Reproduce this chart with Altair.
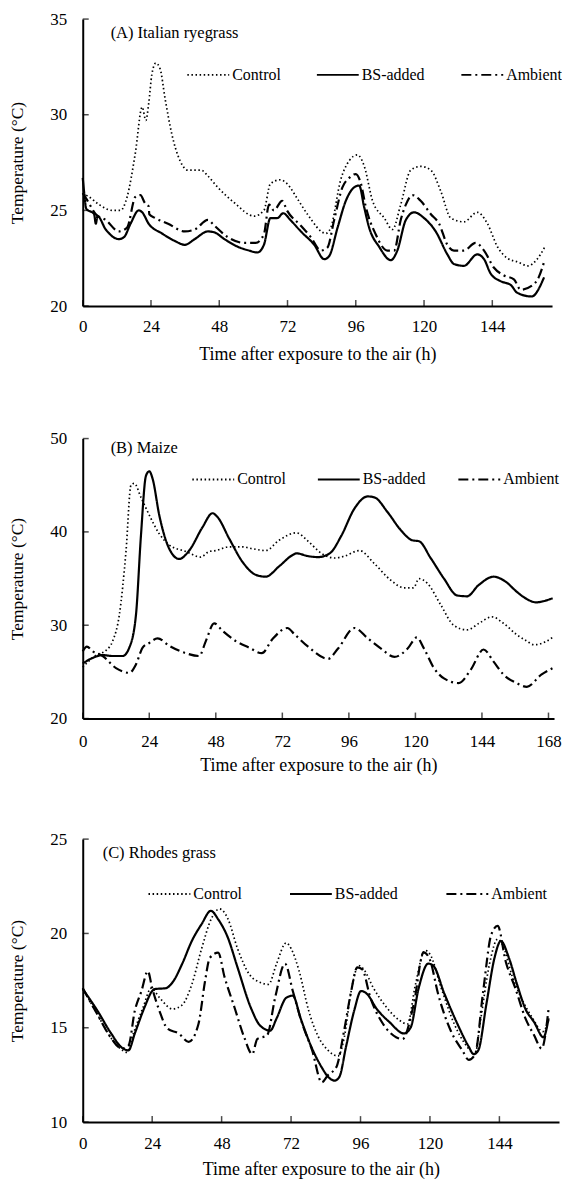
import altair as alt
import pandas as pd

SERIES = ["Control", "BS-added", "Ambient"]
DASHES = [[1.5, 2.6], [1, 0], [10, 4, 2, 4]]
FONT = "Liberation Serif"
X_TITLE = "Time after exposure to the air (h)"
Y_TITLE = "Temperature (°C)"
PANEL_LABELS = ["(A) Italian ryegrass", "(B) Maize", "(C) Rhodes grass"]

# ---------------- Panel A: Italian ryegrass ----------------
a_ctrl_t = [0, 2.3, 5.8, 10.4, 13.3, 15.6, 18.5, 20.9, 22.2, 23.2, 24.3, 25.7, 27.2, 29, 31.3, 34.2, 37, 41.7, 44, 47.5,
            53.3, 60.3, 63.7, 66, 69.5, 71.8, 75.5, 79, 85.5, 87.2, 90.7, 93.7, 96.6, 99, 101.9, 106, 108.9, 111.8,
            115.3, 118.8, 122.4, 125.9, 129.4, 134, 138.7, 142.3, 145.8, 149.3, 153, 156.5, 159.5, 162.5]
a_ctrl_v = [25.9, 25.7, 25.3, 25.0, 25.0, 25.7, 28.0, 30.4, 29.7, 30.6, 32.1, 32.7, 32.4, 30.8, 29.0, 27.6, 27.1, 27.1,
            26.8, 26.2, 25.4, 24.7, 25.0, 26.4, 26.6, 26.4, 25.6, 24.8, 23.8, 24.1, 26.6, 27.6, 27.9, 27.3, 25.5, 24.6,
            24.0, 25.3, 27.1, 27.3, 27.1, 26.0, 24.6, 24.4, 24.9, 24.3, 23.1, 22.5, 22.3, 22.1, 22.4, 23.1]
a_bs_t = [0, 0.6, 1.2, 4, 4.6, 5.2, 8.1, 12.7, 14.5, 16.8, 19.7, 20.9, 23.2, 27.8, 32.4, 35.9, 39.4, 44, 46.3, 49.8,
          54.5, 58.5, 61.4, 63.7, 66, 68.4, 70.5, 73, 76.7, 81.4, 84.9, 86.6, 89.6, 92.5, 95.4, 97.2, 98.9, 100.7,
          104.2, 108.3, 110.6, 113.6, 116.5, 120, 124.1, 128.2, 130.5, 134, 138.7, 141.1, 143.4, 146.9, 150.5, 152.7,
          157.8, 162.2]
a_bs_v = [26.7, 25.8, 25.1, 24.8, 24.3, 24.7, 24.0, 23.5, 23.6, 24.3, 25.0, 24.9, 24.3, 23.8, 23.4, 23.2, 23.5, 23.9,
          23.85, 23.5, 23.1, 22.9, 22.8, 23.2, 24.6, 24.6, 24.85, 24.5, 23.9, 23.2, 22.45, 22.6, 24.1, 25.5, 26.2, 26.3,
          25.2, 24.1, 23.1, 22.4, 22.9, 24.5, 24.9, 24.6, 23.9, 22.7, 22.2, 22.1, 22.7, 22.45, 21.7, 21.3, 21.1, 20.7,
          20.5, 21.5]
a_amb_t = [0, 1.3, 4.6, 8.1, 12.7, 15.6, 18.5, 20.3, 21.8, 23.2, 23.4, 25.5, 30, 35.9, 39.4, 44, 46.3, 51, 56.8, 60.8,
           63.7, 65.5, 67.2, 70.1, 71.8, 76.7, 80.2, 83.7, 86, 88.4, 91.3, 93.7, 96, 97.8, 99.5, 103, 107.1, 109.5,
           111.8, 113.6, 115.9, 118.8, 122.4, 125.3, 128.2, 130.5, 134, 138.1, 141.1, 144.6, 148.1, 151.6, 154, 157.8,
           160.3, 162.2]
a_amb_v = [25.9, 25.6, 24.8, 24.5, 23.9, 24.1, 25.7, 25.8, 25.4, 25.2, 24.8, 24.6, 24.3, 23.9, 24.0, 24.5, 24.2, 23.6,
           23.3, 23.3, 23.75, 25.3, 25.0, 25.5, 25.0, 24.2, 23.6, 22.9, 23.05, 24.5, 26.2, 26.7, 26.9, 26.4, 25.2,
           23.75, 22.9, 22.9, 24.5, 25.3, 25.8, 25.5, 24.8, 24.3, 23.2, 22.9, 22.9, 23.3, 22.9, 22.0, 21.6, 21.4,
           20.85, 21.05, 21.5, 22.3]

# ---------------- Panel B: Maize ----------------
b_ctrl_t = [0, 4.8, 8.4, 10.8, 13.2, 15.6, 17.4, 18.6, 21, 24, 27.6, 31.2, 37.2, 42.6, 45.6, 48, 52.8, 57.6, 61.2, 66,
            70.8, 77.1, 81.3, 86.1, 90.9, 94.4, 99.8, 105.2, 111.2, 116, 119.3, 121.3, 124.3, 129.1, 133.8, 138.6,
            143.4, 147.6, 151.8, 156.5, 160.2, 162.8, 166.7, 169.5]
b_ctrl_v = [25.5, 26.8, 27.3, 28.3, 31.1, 37.9, 45.0, 45.2, 43.7, 41.8, 39.8, 38.6, 37.9, 37.3, 37.9, 38.0, 38.4, 38.4,
            38.2, 38.0, 39.1, 39.9, 39.0, 37.7, 37.2, 37.4, 38.0, 36.6, 34.8, 34.0, 34.0, 35.0, 34.5, 32.2, 30.0, 29.5,
            30.3, 30.9, 30.2, 29.0, 28.3, 27.9, 28.2, 28.7]
b_bs_t = [0, 3.6, 7.2, 10.8, 14.4, 16.8, 19.2, 21, 22.8, 24, 25.2, 27.6, 31.2, 34.8, 38.4, 43.2, 46.8, 48.6, 52.8, 57.6,
          62.4, 66, 70.8, 75.6, 77.1, 81.3, 84.9, 89.1, 93.3, 98, 102.8, 105.2, 110, 114.7, 118.9, 121.3, 125.5, 130.3,
          135, 138.6, 142.8, 148.2, 152.4, 156.5, 160.2, 163.5, 166.5, 169.5]
b_bs_v = [25.9, 26.5, 26.8, 26.7, 26.7, 27.6, 31.1, 39.6, 46.0, 46.5, 45.7, 41.8, 38.2, 37.1, 38.0, 40.5, 42.0, 41.6,
          39.3, 36.8, 35.4, 35.2, 36.3, 37.5, 37.7, 37.4, 37.3, 37.7, 39.6, 42.5, 43.8, 43.7, 42.1, 40.2, 39.1, 39.0,
          37.2, 35.0, 33.2, 33.1, 34.3, 35.2, 34.7, 33.6, 32.8, 32.45, 32.6, 32.9]
b_amb_t = [0, 1.5, 3.6, 7.2, 12, 16.8, 19.2, 21.6, 24, 27, 31.2, 37.2, 42, 44.4, 47.4, 50.4, 55.2, 60, 64.6, 68.4,
           73.8, 76.5, 81.3, 88.5, 92.1, 98, 102.8, 107.6, 112.4, 117.2, 120.5, 123.1, 126.7, 130.3, 135.6, 139.9,
           144.6, 148.2, 151.8, 156.5, 160.2, 165.4, 169.5]
b_amb_v = [27.2, 27.7, 27.2, 26.7, 25.4, 24.9, 25.8, 27.6, 28.1, 28.6, 27.8, 27.0, 26.7, 28.3, 30.2, 29.4, 28.3, 27.6,
           27.0, 28.5, 29.7, 29.0, 27.7, 26.4, 27.5, 29.7, 28.6, 27.5, 26.6, 27.5, 28.7, 27.5, 25.4, 24.3, 23.8, 25.2,
           27.4, 26.1, 24.7, 23.8, 23.4, 24.7, 25.4]

# ---------------- Panel C: Rhodes grass ----------------
c_ctrl_t = [0, 5.1, 9.6, 13, 15.2, 17.5, 20.9, 23.7, 26.5, 31, 34.3, 37.7, 41.1, 44.5, 47.3, 50.1, 53.5, 57.5, 61.4,
            64.2, 67, 70.3, 72, 74.8, 78.1, 81.5, 84.8, 88.2, 90.4, 92.6, 95.4, 97.1, 100.5, 104.9, 109.4, 112.2, 115,
            118.3, 120, 123.9, 128.4, 132.8, 135.6, 137.3, 140.6, 143.4, 145.1, 148.5, 151.5, 155.5, 159, 161]
c_ctrl_v = [17.1, 15.7, 14.5, 13.9, 13.7, 14.7, 16.1, 17.1, 16.6, 16.0, 16.2, 17.3, 19.2, 20.8, 21.3, 20.8, 19.2, 17.85,
            17.4, 17.3, 18.4, 19.5, 19.2, 18.0, 15.9, 14.5, 13.8, 13.5, 14.5, 16.8, 18.3, 18.1, 17.1, 16.1, 15.4, 15.2,
            17.3, 19.1, 18.9, 17.1, 15.2, 14.0, 13.6, 15.2, 18.4, 19.7, 19.4, 17.7, 16.6, 15.5, 14.8, 15.4]
c_bs_t = [0, 5.1, 9.6, 13.5, 15.8, 18, 21.4, 24, 24.8, 28.7, 31, 34.4, 37.7, 41.1, 44.3, 46.8, 50.1, 53.5, 58, 61.4,
          64.8, 67, 70.4, 72.6, 75.3, 78.7, 82.6, 84.8, 87.1, 88.7, 91, 93.8, 96.2, 98.2, 101.6, 106, 111, 113.3, 116.1,
          119.4, 121.1, 125, 129.5, 133.4, 135.1, 136.7, 139.5, 142.3, 144.5, 147.3, 150.1, 153, 156, 159.2, 161]
c_bs_v = [17.05, 15.9, 14.75, 13.95, 13.8, 14.7, 16.1, 16.95, 17.05, 17.1, 17.4, 18.4, 19.6, 20.5, 21.2, 20.75, 19.8,
          18.2, 16.1, 15.1, 14.85, 15.5, 16.6, 16.7, 15.5, 14.1, 12.9, 12.4, 12.2, 12.4, 14.0, 15.9, 16.95, 16.8, 16.0,
          15.3, 14.7, 15.0, 17.1, 18.4, 18.3, 16.8, 15.2, 14.0, 13.6, 13.8, 16.25, 18.7, 19.6, 18.7, 17.3, 16.0, 15.3,
          14.5, 15.5]
c_amb_t = [0, 5.1, 9.6, 13.5, 15.8, 18, 20.3, 22.5, 24, 26.5, 29.3, 33.2, 36.6, 40, 42.3, 43.9, 46.8, 49, 52.4, 55.8,
           58.6, 60.3, 63.7, 66.5, 69.9, 72.6, 75.9, 79.3, 82.6, 84.8, 87.6, 90.4, 92.6, 94.9, 96.6, 99.4, 103.8,
           108.3, 110.5, 114.4, 117.8, 120, 122.8, 127.3, 131.2, 133.4, 135.6, 138.4, 141.2, 143.4, 146.2, 149.5, 153,
           156, 158.6, 161]
c_amb_v = [17.1, 15.7, 14.5, 13.9, 14.05, 15.9, 16.95, 18.0, 17.1, 15.9, 14.95, 14.7, 14.25, 15.2, 17.5, 18.7, 18.98,
           17.7, 16.1, 14.5, 13.6, 14.4, 14.6, 16.6, 18.4, 16.95, 15.2, 13.8, 12.1, 12.5, 12.9, 14.9, 16.8, 18.2, 18.1,
           16.6, 15.2, 14.5, 14.4, 16.25, 19.0, 18.6, 16.8, 14.8, 13.8, 13.3, 13.6, 16.95, 19.95, 20.4, 18.5, 17.1,
           15.5, 14.6, 13.9, 16.0]

X_TICKS_A = [0, 24, 48, 72, 96, 120, 144]
X_TICKS_B = [0, 24, 48, 72, 96, 120, 144, 168]
X_TICKS_C = [0, 24, 48, 72, 96, 120, 144]
Y_TICKS_A = [20, 25, 30, 35]
Y_TICKS_B = [20, 30, 40, 50]
Y_TICKS_C = [10, 15, 20, 25]


def panel(label, series_data, xmax, ydom, xticks, yticks, width, height,
          lab_xy, leg_xy, col_pad, x_lab_pad, x_title_pad, top_extra=0):
    rows = []
    for name, (ts, vs) in zip(SERIES, series_data):
        rows += [{"series": name, "t": t, "v": v} for t, v in zip(ts, vs)]
    df = pd.DataFrame(rows)

    xs = alt.Scale(domain=[0, xmax], nice=False, zero=False)
    ys = alt.Scale(domain=ydom, nice=False, zero=False)
    x_axis = alt.Axis(values=xticks, title=X_TITLE, labelPadding=x_lab_pad,
                      titlePadding=x_title_pad, labelFlush=False)
    y_axis = alt.Axis(values=yticks, title=Y_TITLE, labelPadding=16, titlePadding=23)
    X = alt.X("t:Q", scale=xs, axis=x_axis)
    Y = alt.Y("v:Q", scale=ys, axis=y_axis)

    lines = alt.Chart(df).mark_line(
        color="black", strokeCap="butt", interpolate="monotone"
    ).encode(
        x=X, y=Y,
        strokeDash=alt.StrokeDash(
            "series:N",
            scale=alt.Scale(domain=SERIES, range=DASHES),
            legend=alt.Legend(
                title=None, orient="none", legendX=leg_xy[0], legendY=leg_xy[1],
                direction="horizontal", symbolType="stroke", symbolSize=1764,
                symbolStrokeWidth=2, symbolStrokeColor="black", labelFont=FONT,
                labelFontSize=16, labelColor="black", columnPadding=col_pad,
                labelOffset=2, padding=0,
            ),
        ),
        strokeWidth=alt.condition(alt.datum.series == "Control", alt.value(1.7), alt.value(2.2)),
    )

    xt = pd.DataFrame({"t": xticks, "v": [ydom[0]] * len(xticks)})
    yt = pd.DataFrame({"t": [0] * len(yticks), "v": yticks})
    xtick_layer = alt.Chart(xt).mark_tick(
        orient="vertical", size=6, thickness=1.5, yOffset=-3, color="black"
    ).encode(x=X, y=Y)
    ytick_layer = alt.Chart(yt).mark_tick(
        orient="horizontal", size=6, thickness=1.5, xOffset=3, color="black"
    ).encode(x=X, y=Y)

    text_layer = alt.Chart(pd.DataFrame({"label": [label]})).mark_text(
        align="left", baseline="middle", font=FONT, fontSize=16.5, color="black"
    ).encode(x=alt.value(lab_xy[0]), y=alt.value(lab_xy[1]), text="label:N")

    layers = [lines, xtick_layer, ytick_layer, text_layer]
    if top_extra:
        # invisible spacer that reserves room above the plot area
        spacer = alt.Chart(pd.DataFrame({"label": [label]})).mark_rule(
            strokeOpacity=0, strokeWidth=1
        ).encode(x=alt.value(0), y=alt.value(-top_extra), y2=alt.value(0))
        layers.append(spacer)

    return alt.layer(*layers).properties(width=width, height=height)


pa = panel(PANEL_LABELS[0], [(a_ctrl_t, a_ctrl_v), (a_bs_t, a_bs_v), (a_amb_t, a_amb_v)],
           165, [20, 35], X_TICKS_A, Y_TICKS_A, 471, 288, (28, 14), (104, 34), 32, 12.5, 11)
pb = panel(PANEL_LABELS[1], [(b_ctrl_t, b_ctrl_v), (b_bs_t, b_bs_v), (b_amb_t, b_amb_v)],
           170, [20, 50], X_TICKS_B, Y_TICKS_B, 473, 281, (28, 9), (109, 19), 28, 15.5, 7, top_extra=20)
pc = panel(PANEL_LABELS[2], [(c_ctrl_t, c_ctrl_v), (c_bs_t, c_bs_v), (c_amb_t, c_amb_v)],
           164.6, [10, 25], X_TICKS_C, Y_TICKS_C, 478, 284, (20, 14), (65, 33), 44, 13, 10)

chart = (
    alt.vconcat(pa, pb, pc, spacing=55)
    .resolve_scale(strokeDash="independent")
    .resolve_legend(strokeDash="independent")
    .properties(padding={"left": 1, "top": 0, "right": 0, "bottom": 0}, background="white")
    .configure_view(stroke="transparent", strokeWidth=0)
    .configure_axis(
        labelFont=FONT, titleFont=FONT, labelFontSize=17, titleFontSize=18,
        titleFontWeight="normal", labelColor="black", titleColor="black",
        domainColor="black", domainWidth=2, ticks=False, grid=False,
    )
    .configure_axisY(titleFontSize=17.5)
    .configure_legend(labelFont=FONT, labelFontSize=16, labelColor="black")
)

chart.save("out.html", embed_options={"renderer": "svg", "actions": False})
